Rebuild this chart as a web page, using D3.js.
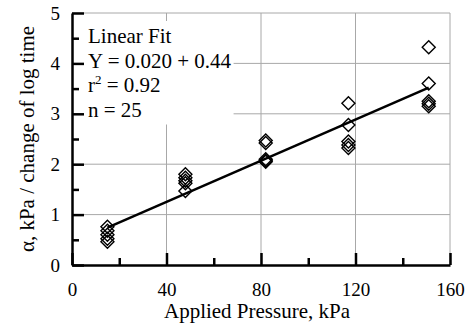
<!DOCTYPE html>
<html>
<head>
  <meta charset="utf-8">
  <script src="https://cdn.jsdelivr.net/npm/d3@7"></script>
  <style>
    body { margin: 0; background: #fff; }
    text { font-family: "Liberation Serif", "Times New Roman", serif; fill: #000; }
    .grid line { stroke: #a8a8a8; stroke-width: 1; }
    .axis path, .axis line { stroke: #000; stroke-width: 2.5; }
  </style>
</head>
<body>
<script>
// pressure groups (kPa) and measured alpha values
var pressure = [15, 15, 15, 15, 15,
                48, 48, 48, 48, 48,
                82, 82, 82, 82, 82,
                117, 117, 117, 117, 117,
                151, 151, 151, 151, 151];
var alpha = [0.76, 0.68, 0.60, 0.52, 0.46,
             1.80, 1.73, 1.67, 1.62, 1.47,
             2.47, 2.42, 2.10, 2.07, 2.05,
             3.21, 2.78, 2.45, 2.38, 2.32,
             4.32, 3.60, 3.25, 3.20, 3.15];
// fitted line end points
var fitX = [15, 151];
var fitY = [0.74, 3.52];
var xTicks = [0, 40, 80, 120, 160];
var yTicks = [0, 1, 2, 3, 4, 5];
var fitText = ["Linear Fit", "Y = 0.020 + 0.44", "r2 = 0.92", "n = 25"];

var W = 467, H = 323;
var margin = {top: 13, right: 17, bottom: 58, left: 72};
var w = W - margin.left - margin.right, h = H - margin.top - margin.bottom;
var serif = "'Liberation Serif', 'Times New Roman', serif";

var svg = d3.select("body").append("svg").attr("width", W).attr("height", H);
var g = svg.append("g").attr("transform", "translate(" + margin.left + "," + margin.top + ")");

var x = d3.scaleLinear().domain([0, 160]).range([0, w]);
var y = d3.scaleLinear().domain([0, 5]).range([h, 0]);

// gridlines
var grid = g.append("g").attr("class", "grid");
grid.selectAll(".gx").data(xTicks.slice(1)).enter().append("line")
  .attr("x1", function(d) { return x(d); }).attr("x2", function(d) { return x(d); })
  .attr("y1", 0).attr("y2", h);
grid.selectAll(".gy").data(yTicks.slice(1)).enter().append("line")
  .attr("x1", 0).attr("x2", w)
  .attr("y1", function(d) { return y(d); }).attr("y2", function(d) { return y(d); });

// fit text box (white background hides the grid)
var box = g.append("g");
var txt = box.append("text").attr("x", 16).attr("y", 30).style("font-size", "21px");
fitText.forEach(function(s, i) {
  var t = txt.append("tspan").attr("x", 16).attr("y", 30 + i * 24.5);
  if (s.indexOf("r2") === 0) {
    t.text("r");
    t.append("tspan").attr("dy", -8).style("font-size", "13px").text("2");
    t.append("tspan").attr("dy", 8).text(s.slice(2));
  } else {
    t.text(s);
  }
});
var bb = txt.node().getBBox();
box.insert("rect", "text")
  .attr("x", 0).attr("y", bb.y - 3)
  .attr("width", bb.x + bb.width + 2).attr("height", bb.height + 6)
  .attr("fill", "#fff");

// fit line
var line = d3.line().x(function(d) { return x(d[0]); }).y(function(d) { return y(d[1]); });
g.append("path").datum(d3.zip(fitX, fitY)).attr("d", line)
  .attr("fill", "none").attr("stroke", "#000").attr("stroke-width", 2.5);

// points
var dia = "M0,-6.5L6.5,0L0,6.5L-6.5,0Z";
g.selectAll(".pt").data(d3.zip(pressure, alpha)).enter().append("path")
  .attr("d", dia)
  .attr("transform", function(d) { return "translate(" + x(d[0]) + "," + y(d[1]) + ")"; })
  .attr("fill", "none").attr("stroke", "#000").attr("stroke-width", 1.4);

// axes: minor ticks
g.append("g").attr("class", "axis").attr("transform", "translate(0," + h + ")")
  .call(d3.axisBottom(x).tickValues([20, 60, 100, 140]).tickSize(-7).tickSizeOuter(0).tickFormat(""))
  .select(".domain").remove();
g.append("g").attr("class", "axis")
  .call(d3.axisLeft(y).tickValues([0.5, 1.5, 2.5, 3.5, 4.5]).tickSize(-7).tickSizeOuter(0).tickFormat(""))
  .select(".domain").remove();

// axes: major ticks
var xAxis = g.append("g").attr("class", "axis").attr("transform", "translate(0," + h + ")")
  .call(d3.axisBottom(x).tickValues(xTicks).tickFormat(d3.format("d"))
    .tickSize(-12).tickSizeOuter(0).tickPadding(18));
var yAxis = g.append("g").attr("class", "axis")
  .call(d3.axisLeft(y).tickValues(yTicks).tickFormat(d3.format("d"))
    .tickSize(-12).tickSizeOuter(0).tickPadding(12));
[xAxis, yAxis].forEach(function(a) {
  a.attr("font-family", serif).attr("font-size", 19);
  a.selectAll("text").style("font-family", serif).style("font-size", "19px");
});

// axis titles
svg.append("text").attr("x", margin.left + w / 2 - 4).attr("y", 318)
  .attr("text-anchor", "middle").style("font-size", "21px")
  .text("Applied Pressure, kPa");
svg.append("text")
  .attr("transform", "translate(34," + (margin.top + h / 2) + ") rotate(-90)")
  .attr("text-anchor", "middle").style("font-size", "21px")
  .text("α, kPa / change of log time");
</script>
</body>
</html>
